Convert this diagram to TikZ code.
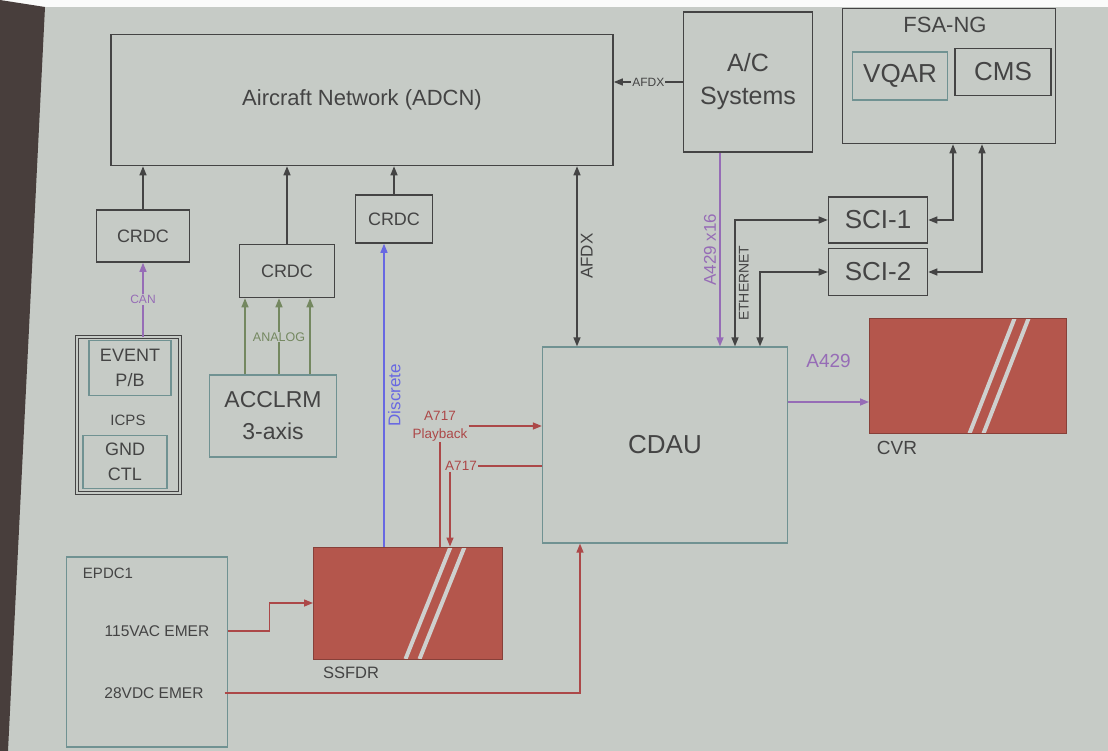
\documentclass[tikz,border=0pt]{standalone}
\usepackage{fontspec}
\setmainfont{Liberation Sans}
\usetikzlibrary{arrows.meta}

\definecolor{slide}{RGB}{198,203,198}
\definecolor{ink}{RGB}{68,68,68}
\definecolor{boxteal}{RGB}{112,146,146}
\definecolor{recred}{RGB}{180,86,76}
\definecolor{stripegray}{RGB}{206,208,206}
\definecolor{sigred}{RGB}{172,72,72}
\definecolor{sigpur}{RGB}{150,108,182}
\definecolor{sigblu}{RGB}{104,104,226}
\definecolor{siggrn}{RGB}{116,136,96}
\definecolor{screen}{RGB}{72,62,60}

\newcommand\sz[2]{\fontsize{#1}{#2}\selectfont}

\begin{document}
\begin{tikzpicture}[x=1pt, y=-1pt,
  unit/.style={draw=ink, line width=1.6pt, inner sep=0pt, text=ink, align=center},
  soft/.style={draw=boxteal, line width=1.3pt, inner sep=0pt, text=ink, align=center},
  stripe/.style={draw=stripegray, line width=4pt},
  rec/.style={fill=recred, draw=recred!75!black, line width=1pt, inner sep=0pt,
              path picture={
                \draw[stripe] ([xshift=-52pt]path picture bounding box.north east)
                  -- ([xshift=-97pt]path picture bounding box.south east);
                \draw[stripe] ([xshift=-38pt]path picture bounding box.north east)
                  -- ([xshift=-83pt]path picture bounding box.south east);}},
  tag/.style={text=ink, inner sep=1pt},
  lk/.style={draw=ink, line width=1.4pt},
  sig/.style={line width=1.4pt},
  arr/.style={-{Triangle[length=9pt,width=7pt]}},
  both/.style={{Triangle[length=9pt,width=7pt]}-{Triangle[length=9pt,width=7pt]}}]

\useasboundingbox (0,0) rectangle (1108,751);
\fill[slide] (0,0) rectangle (1108,751);
\fill[white!92!slide] (0,0) rectangle (1108,7);
\fill[screen] (0,0) -- (45,7) -- (8,751) -- (0,751) -- cycle;

%% top row: network, A/C systems, FSA-NG
\node[unit, minimum width=502, minimum height=131, font=\sz{22}{26}] (adcn) at (362,100) {Aircraft Network (ADCN)};
\node[unit, minimum width=129, minimum height=140, font=\sz{25}{33}] (acs) at (748,82) {A/C\\Systems};
\node[unit, minimum width=213, minimum height=135] (fsa) at (949,76) {};
\node[tag, font=\sz{22}{26}] (fsaname) at (945,25) {FSA-NG};
\node[soft, minimum width=95, minimum height=48, font=\sz{26}{30}] (vqar) at (900,76) {VQAR};
\node[unit, minimum width=96, minimum height=47, font=\sz{26}{30}] (cms) at (1003,72) {CMS};
\node[unit, minimum width=99, minimum height=46, font=\sz{26}{30}] (sci1) at (878,220) {SCI-1};
\node[unit, minimum width=99, minimum height=47, font=\sz{26}{30}] (sci2) at (878,272) {SCI-2};

%% concentrators and sensors
\node[unit, minimum width=93, minimum height=52, font=\sz{18}{22}] (crdc1) at (143,236) {CRDC};
\node[unit, minimum width=95, minimum height=53, font=\sz{18}{22}] (crdc2) at (287,271) {CRDC};
\node[unit, minimum width=77, minimum height=48, font=\sz{18}{22}] (crdc3) at (394,219) {CRDC};
\node[draw=ink, double=slide, double distance=2pt, line width=1pt,
      minimum width=103, minimum height=156, inner sep=0pt] (icps) at (128,415) {};
\node[soft, minimum width=82, minimum height=55, font=\sz{18}{25}] (event) at (130,368) {EVENT\\P/B};
\node[tag, font=\sz{15}{18}] (icpsname) at (128,420) {ICPS};
\node[soft, minimum width=84, minimum height=53, font=\sz{18}{25}] (gnd) at (125,462) {GND\\CTL};
\node[soft, minimum width=127, minimum height=82, font=\sz{23}{32}] (acc) at (273,416) {ACCLRM\\3-axis};

%% recorders and acquisition unit
\node[soft, minimum width=245, minimum height=196, font=\sz{26}{30}] (cdau) at (665,445) {CDAU};
\node[rec, minimum width=197, minimum height=115] (cvr) at (968,376) {};
\node[tag, font=\sz{19}{22}] (cvrname) at (897,448) {CVR};
\node[rec, minimum width=189, minimum height=112] (ssfdr) at (408,603) {};
\node[tag, font=\sz{16.5}{20}] (ssfdrname) at (351,673) {SSFDR};

%% power
\node[soft, minimum width=161, minimum height=190] (epdc) at (147,652) {};
\node[tag, font=\sz{15}{18}] (epdcname) at (108,573) {EPDC1};
\node[tag, font=\sz{15.5}{18}] (v115) at (157,631) {115VAC EMER};
\node[tag, font=\sz{15.5}{18}] (v28) at (154,693) {28VDC EMER};

%% links up to the network
\draw[lk, arr] (acs.west) -- node[fill=slide, inner sep=1pt, text=ink, font=\sz{12}{14}] {AFDX} (acs.west -| adcn.east);
\draw[lk, arr] (crdc1.north) -- (crdc1.north |- adcn.south);
\draw[lk, arr] (crdc2.north) -- (crdc2.north |- adcn.south);
\draw[lk, arr] (crdc3.north) -- (crdc3.north |- adcn.south);
\draw[lk, both] ([xshift=215]adcn.south) -- ([xshift=215]adcn.south |- cdau.north)
  node[midway, rotate=90, anchor=north, text=ink, font=\sz{17}{20}] {AFDX};
\draw[sig, draw=sigpur, arr] (crdc1.south |- icps.north) -- node[fill=slide, inner sep=1pt, text=sigpur, font=\sz{12}{14}] {CAN} (crdc1.south);
\foreach \dx in {-28,6,37}
  \draw[sig, draw=siggrn, arr] ([xshift=\dx]acc.north) -- ([xshift=\dx]acc.north |- crdc2.south);
\node[fill=slide, inner sep=1pt, text=siggrn, font=\sz{12.5}{14}] (analog) at (279,337) {ANALOG};
\draw[sig, draw=sigblu, arr] ([xshift=-24]ssfdr.north) -- ([xshift=-24]ssfdr.north |- crdc3.south)
  node[midway, rotate=90, anchor=north, text=sigblu, font=\sz{17}{20}] {Discrete};

%% CDAU links
\draw[sig, draw=sigpur, arr] ([xshift=-28]acs.south) -- ([xshift=-28]acs.south |- cdau.north)
  node[midway, rotate=90, anchor=south, text=sigpur, font=\sz{17}{20}] {A429 x16};
\draw[lk, both] ([xshift=70]cdau.north) |- (sci1.west)
  node[pos=0.25, rotate=90, anchor=north, text=ink, font=\sz{14}{16}] {ETHERNET};
\draw[lk, both] ([xshift=95]cdau.north) |- (sci2.west);
\draw[lk, both] (sci1.east) -| ([xshift=4]fsa.south);
\draw[lk, both] (sci2.east) -| ([xshift=33]fsa.south);
\draw[sig, draw=sigpur, arr] ([yshift=43]cdau.east) -- ([yshift=43]cdau.east -| cvr.west)
  node[midway, above=30pt, text=sigpur, font=\sz{19}{22}] {A429};

%% A717 links with the SSFDR
\node[tag, text=sigred, align=center, font=\sz{13.5}{18}] (pb) at (440,426) {A717\\Playback};
\draw[sig, draw=sigred] (pb.south) -- (pb.south |- ssfdr.north);
\draw[sig, draw=sigred, arr] (pb.east) -- (pb.east -| cdau.west);
\node[tag, text=sigred, font=\sz{13.5}{16}] (a717) at (461,466) {A717};
\draw[sig, draw=sigred] (cdau.west |- a717.east) -- (a717.east);
\draw[sig, draw=sigred, arr] ([xshift=-11]a717.south) -- ([xshift=-11]a717.south |- ssfdr.north);

%% power feeds
\draw[sig, draw=sigred, arr] ([xshift=18]v115.east) -- ++(41,0) |- (ssfdr.west);
\draw[sig, draw=sigred, arr] ([xshift=20]v28.east) -| ([xshift=-85]cdau.south);
\end{tikzpicture}
\end{document}
